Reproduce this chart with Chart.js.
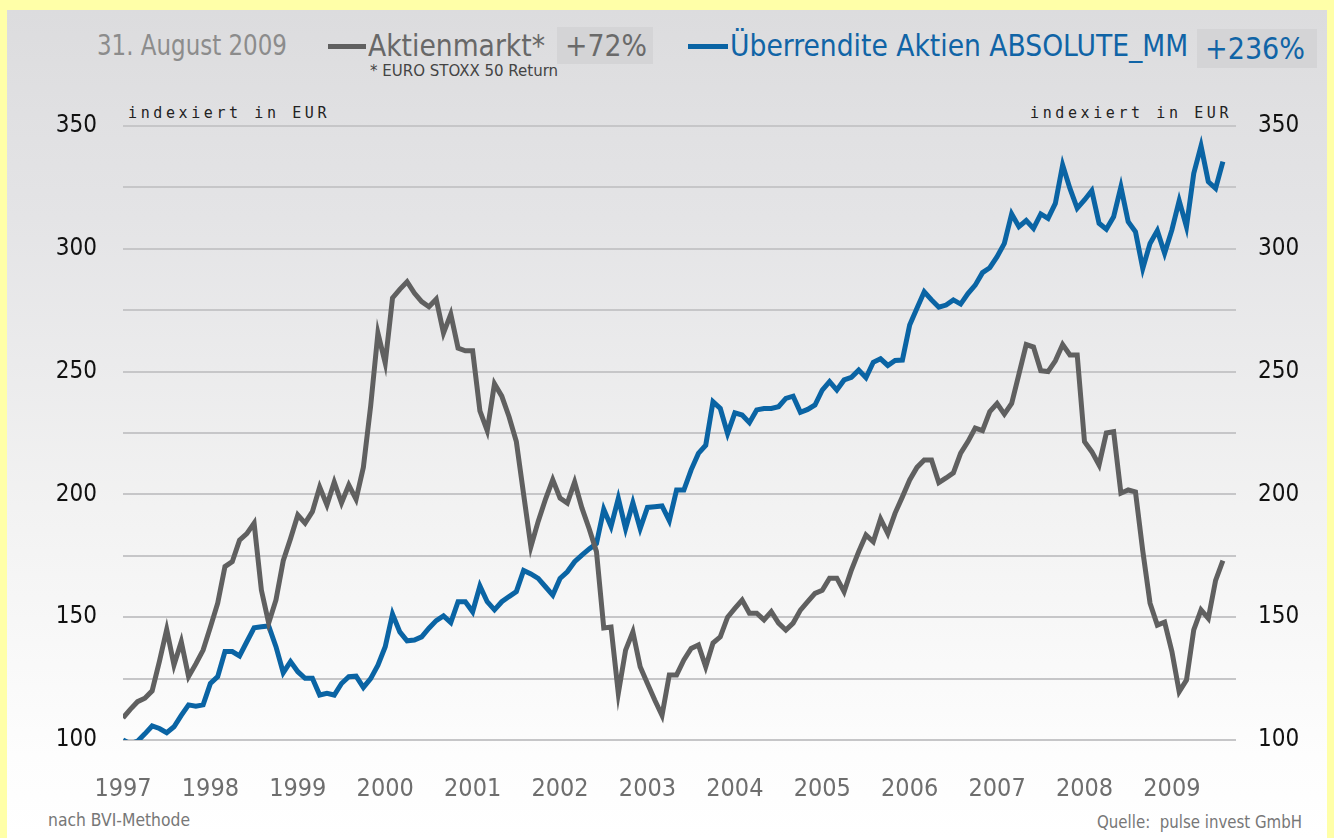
<!DOCTYPE html>
<html>
<head>
<meta charset="utf-8">
<script src="https://cdn.jsdelivr.net/npm/chart.js@4.4.1/dist/chart.umd.min.js"></script>
<style>
  html, body { margin: 0; padding: 0; }
  body { width: 1334px; height: 838px; background: #FFFFA8; position: relative; overflow: hidden;
         font-family: 'DejaVu Sans Condensed', 'DejaVu Sans', sans-serif; }
  #panel { position: absolute; left: 7px; top: 10px; right: 7px; bottom: 0;
           background: linear-gradient(to bottom, #DCDCDE 0%, #E4E4E6 25%, #F2F2F2 60%, #FDFDFD 90%, #FFFFFF 100%); }
  #chart { position: absolute; left: 0; top: 0; }
  .t { position: absolute; white-space: nowrap; transform-origin: 0 50%; }
  .box { position: absolute; background: #D4D4D6; }
  .swatch { position: absolute; height: 5px; }
  .idx { position: absolute; top: 104px; font-family: 'DejaVu Sans Mono', monospace; font-size: 15px;
         letter-spacing: 3.6px; color: #222; white-space: nowrap; }
</style>
</head>
<body>
<div id="panel"></div>

<div class="t" data-w="190" style="left:97px; top:26px; line-height:40px; font-size:28px; color:#8C8C8C;">31. August 2009</div>

<div class="swatch" style="left:328px; top:44px; width:38px; background:#606060;"></div>
<div class="t" data-w="177" style="left:368px; top:25px; line-height:40px; font-size:31px; color:#686868;">Aktienmarkt*</div>
<div class="box" style="left:557px; top:27px; width:96px; height:37px;"></div>
<div class="t" data-w="82" style="left:565px; top:25px; line-height:40px; font-size:31px; color:#6A6A6A;">+72%</div>
<div class="t" data-w="188" style="left:370px; top:63px; line-height:16px; font-size:15px; color:#444;">* EURO STOXX 50 Return</div>

<div class="swatch" style="left:688px; top:44px; width:40px; background:#0A64A4;"></div>
<div class="t" data-w="458" style="left:730px; top:25px; line-height:40px; font-size:31px; color:#1064A6;">Überrendite Aktien ABSOLUTE_MM</div>
<div class="box" style="left:1197px; top:29px; width:120px; height:39px;"></div>
<div class="t" data-w="100" style="left:1205px; top:28px; line-height:40px; font-size:31px; color:#1064A6;">+236%</div>

<div class="idx" style="left:128px;">indexiert in EUR</div>
<div class="idx" style="left:1030px;">indexiert in EUR</div>

<div class="t" data-w="142" style="left:48px; top:810px; line-height:20px; font-size:17px; color:#777;">nach BVI-Methode</div>
<div class="t" data-w="205" style="left:1097px; top:812px; line-height:20px; font-size:17px; color:#777;">Quelle:&nbsp; pulse invest GmbH</div>

<canvas id="chart" width="1334" height="838"></canvas>

<script>
// Monatswerte Jan 1997 .. Aug 2009, indexiert (Start = 100)
var yearLabels = ['1997', '1998', '1999', '2000', '2001', '2002', '2003', '2004', '2005', '2006', '2007', '2008', '2009'];

// Aktienmarkt* (EURO STOXX 50 Return)
var aktienmarkt = [
  109, 112.5, 115.6, 117, 120, 132, 145, 130.5, 140, 125.8, 131, 136.6,
  146, 155.7, 170.6, 172.6, 181.4, 184, 188.3, 161, 147.6, 157, 173, 182,
  191.6, 188.3, 193, 203, 195.7, 205, 196.5, 203.8, 198, 211, 236, 265.7,
  253.5, 280, 283.5, 286.6, 282, 278.5, 276.4, 279.5, 265.7, 273.4, 259.6, 258.5,
  258.5, 234, 226, 245, 240, 231.6, 221.5, 200, 178.7, 189, 198, 206,
  198.5, 196.5, 205, 194.5, 186, 176.7, 145.6, 146, 119, 136.6, 144, 129.8,
  123, 116.3, 110, 126.5, 126.5, 132.6, 137.3, 138.7, 129.8, 139.5, 142, 150,
  153.6, 157, 151.6, 151.6, 148.9, 152.3, 147.6, 144.8, 147.6, 152.9, 156.3, 159.7,
  161, 165.9, 165.9, 160.4, 169.2, 176.7, 183.5, 180.7, 190, 184, 192.4, 199,
  205.9, 211, 214, 214, 204.8, 206.7, 208.8, 216.8, 221.5, 227, 226, 233.7,
  237, 232.7, 237, 249, 261, 260, 250.4, 250, 254.4, 261, 256.8, 256.8,
  221.5, 217.4, 212, 225, 225.5, 200.5, 201.8, 201, 177, 155.7, 146.8, 148,
  136, 119.7, 124.4, 144.8, 153, 149.5, 165, 173
];

// Überrendite Aktien ABSOLUTE_MM
var ueberrendite = [
  100, 98.5, 99.5, 102.5, 105.7, 104.7, 103, 105.4, 110, 114.3, 113.8, 114.3,
  123, 125.8, 136, 136, 134.2, 140, 145.7, 146.1, 146.4, 138, 127.4, 131.9,
  127.8, 125.1, 125.1, 118.3, 119, 118.3, 123, 125.8, 126, 121.4, 125, 130.5,
  138, 151.3, 144, 140.4, 140.7, 142, 145.5, 148.6, 150.5, 147.8, 156.3, 156.3,
  152.2, 162.7, 156.3, 153, 156.3, 158.4, 160.4, 169, 167.6, 165.8, 162.4, 159,
  165.8, 168.5, 172.6, 175.3, 177.8, 180, 193.9, 186.9, 198.4, 186.1, 196.6, 186.1,
  194.7, 195, 195.3, 189.3, 201.8, 201.8, 210, 216.7, 220, 237.7, 235, 224.8,
  233.2, 232.3, 229.2, 234.4, 235, 235, 235.7, 239.1, 240, 233.4, 234.6, 236.4,
  242.5, 245.9, 242.5, 246.6, 247.7, 250.6, 247.5, 253.8, 255.2, 252.5, 254.5, 254.7,
  269, 275.8, 282.5, 279.2, 276.2, 277.1, 279.2, 277.5, 281.8, 285.2, 290.3, 292.3,
  296.8, 302.2, 314.2, 309, 311.5, 308.3, 314.2, 312.4, 318.5, 334.1, 324.6, 316.5,
  319.9, 323.7, 310.4, 308, 313, 325.2, 311, 306.9, 292, 302.2, 307.4, 298.2,
  307.7, 319.6, 309, 330.7, 341.9, 327.3, 324.6, 335.5
];

var yMin = 100, yMax = 350;

// schmale Schrift nachbilden: Text auf Zielbreite stauchen
document.querySelectorAll('.t[data-w]').forEach(function (el) {
  var w = el.getBoundingClientRect().width;
  var target = parseFloat(el.getAttribute('data-w'));
  if (w > 0) el.style.transform = 'scaleX(' + (target / w).toFixed(3) + ')';
});

function toPoints(arr) {
  return arr.map(function (v, i) { return { x: i, y: v }; });
}

var narrow = "'DejaVu Sans Condensed', 'DejaVu Sans', sans-serif";

function yTicks(pad, drawGrid) {
  return {
    min: yMin, max: yMax,
    border: { display: false },
    grid: { display: drawGrid, color: '#C6C6C8', lineWidth: 2, drawTicks: false },
    ticks: {
      stepSize: 25, padding: pad, color: '#111',
      font: { family: narrow, size: 24 },
      callback: function (v) { return v % 50 === 0 ? String(v) : ''; }
    }
  };
}

var yLeft = yTicks(26, true);
yLeft.position = 'left';
yLeft.afterFit = function (s) { s.width = 123; };
var yRight = yTicks(22, false);
yRight.position = 'right';
yRight.afterFit = function (s) { s.width = 98; };

new Chart(document.getElementById('chart'), {
  type: 'line',
  data: {
    datasets: [
      { label: 'Aktienmarkt*', data: toPoints(aktienmarkt), borderColor: '#606060',
        borderWidth: 5, pointRadius: 0, tension: 0, fill: false },
      { label: 'Überrendite Aktien ABSOLUTE_MM', data: toPoints(ueberrendite), borderColor: '#0A64A4',
        borderWidth: 5, pointRadius: 0, tension: 0, fill: false }
    ]
  },
  options: {
    responsive: false,
    animation: false,
    layout: { padding: { left: 0, right: 0, top: 126, bottom: 0 } },
    plugins: { legend: { display: false }, tooltip: { enabled: false } },
    scales: {
      x: {
        type: 'linear', min: 0, max: 152.8,
        border: { display: false },
        grid: { display: false },
        afterBuildTicks: function (s) {
          s.ticks = yearLabels.map(function (_, k) { return { value: k * 12 }; });
        },
        afterFit: function (s) { s.height = 98; },
        ticks: {
          padding: 26, color: '#6E6E6E', maxRotation: 0, autoSkip: false,
          font: { family: narrow, size: 25 },
          callback: function (v) { return yearLabels[v / 12]; }
        }
      },
      y: yLeft,
      y2: yRight
    }
  }
});
</script>
</body>
</html>
